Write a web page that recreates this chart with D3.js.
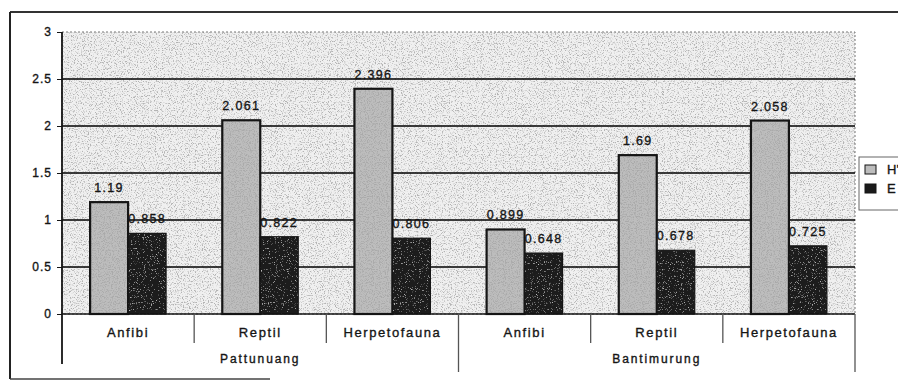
<!DOCTYPE html>
<html>
<head>
<meta charset="utf-8">
<script src="https://cdn.jsdelivr.net/npm/d3@7/dist/d3.min.js"></script>
<style>
  html, body { margin: 0; padding: 0; background: #fff; }
  svg { display: block; font-family: "Liberation Sans", Arial, sans-serif; }
  svg text { stroke: #151515; stroke-width: 0.35px; }
</style>
</head>
<body>
<svg id="chart" width="898" height="381"></svg>
<script>
// Sites and taxon groups along the category axis
const sites = ["Pattunuang", "Bantimurung"];
const taxa = ["Anfibi", "Reptil", "Herpetofauna"];
// Series: diversity index (H') and evenness (E), in site-then-taxon order
const seriesKeys = ["H'", "E"];
const hValues = [1.19, 2.061, 2.396, 0.899, 1.69, 2.058];
const eValues = [0.858, 0.822, 0.806, 0.648, 0.678, 0.725];
const yTicks = [0, 0.5, 1, 1.5, 2, 2.5, 3];

const categories = [];
sites.forEach(s => taxa.forEach(t => categories.push({ site: s, taxon: t })));
const rows = categories.map((c, i) => ({ ...c, i, H: hValues[i], E: eValues[i] }));

const svg = d3.select("#chart");
const plot = { left: 62, right: 855, top: 32, bottom: 314 };
const ink = "#151515";

// Grain texture used on the plot surface and bars
const defs = svg.append("defs");
function grain(id, freq, tone, slope, offset, seed) {
  const f = defs.append("filter").attr("id", id)
    .attr("x", 0).attr("y", 0).attr("width", "100%").attr("height", "100%");
  f.append("feTurbulence").attr("type", "fractalNoise")
    .attr("baseFrequency", freq).attr("numOctaves", 2).attr("seed", seed).attr("result", "n");
  f.append("feColorMatrix").attr("in", "n").attr("type", "matrix")
    .attr("values", `0 0 0 0 ${tone} 0 0 0 0 ${tone} 0 0 0 0 ${tone} ${slope} 0 0 0 ${offset}`)
    .attr("result", "dots");
  f.append("feComposite").attr("in", "dots").attr("in2", "SourceGraphic").attr("operator", "atop");
}
grain("grainBg", 0.85, 0.45, 5, -2.55, 7);
grain("grainLight", 0.85, 0.4, 5, -2.35, 11);
grain("grainDark", 0.85, 0.55, 4, -2.5, 5);

const x0 = d3.scaleBand().domain(rows.map(d => d.i)).range([plot.left, plot.right]);
const x1 = d3.scaleBand().domain(["H", "E"]).range([0, x0.bandwidth()]).paddingOuter(0.74);
const y = d3.scaleLinear().domain([0, 3]).range([plot.bottom, plot.top]);

// Outer frame
svg.append("line").attr("x1", 10).attr("x2", 898).attr("y1", 12).attr("y2", 12)
  .attr("stroke", "#333").attr("stroke-width", 2);
svg.append("line").attr("x1", 10).attr("x2", 10).attr("y1", 12).attr("y2", 379)
  .attr("stroke", "#222").attr("stroke-width", 2);
svg.append("line").attr("x1", 10).attr("x2", 270).attr("y1", 379).attr("y2", 379)
  .attr("stroke", "#444").attr("stroke-width", 1.5);

// Plot surface
svg.append("rect")
  .attr("x", plot.left).attr("y", plot.top)
  .attr("width", plot.right - plot.left).attr("height", plot.bottom - plot.top)
  .attr("fill", "#f0f0f0").attr("filter", "url(#grainBg)");
svg.append("rect")
  .attr("x", plot.left).attr("y", plot.top)
  .attr("width", plot.right - plot.left).attr("height", plot.bottom - plot.top)
  .attr("fill", "none").attr("stroke", "#777").attr("stroke-dasharray", "2,2");

// Horizontal gridlines
svg.append("g").selectAll("line").data(yTicks.filter(v => v > 0 && v < 3)).join("line")
  .attr("x1", plot.left).attr("x2", plot.right)
  .attr("y1", d => y(d)).attr("y2", d => y(d))
  .attr("stroke", "#000").attr("stroke-width", 1.6);

// Bars: textured fill, then a clean outline on top
const groups = svg.append("g").selectAll("g").data(rows).join("g")
  .attr("transform", d => `translate(${x0(d.i)},0)`);
const barSpec = [
  { key: "H", fill: "#bdbdbd", filter: "url(#grainLight)", sw: 2.2 },
  { key: "E", fill: "#1a1a1a", filter: "url(#grainDark)", sw: 1.2 }
];
barSpec.forEach(b => {
  groups.append("rect")
    .attr("x", x1(b.key)).attr("width", x1.bandwidth())
    .attr("y", d => y(d[b.key])).attr("height", d => y(0) - y(d[b.key]))
    .attr("fill", b.fill).attr("filter", b.filter);
  groups.append("rect")
    .attr("x", x1(b.key)).attr("width", x1.bandwidth())
    .attr("y", d => y(d[b.key])).attr("height", d => y(0) - y(d[b.key]))
    .attr("fill", "none").attr("stroke", ink).attr("stroke-width", b.sw);
});

// Value labels
const fmt = v => String(v);
barSpec.forEach(b => {
  groups.append("text")
    .attr("x", x1(b.key) + x1.bandwidth() / 2).attr("y", d => y(d[b.key]) - 10)
    .attr("text-anchor", "middle").attr("font-size", 12.5).attr("letter-spacing", 1.3)
    .attr("fill", ink).text(d => fmt(d[b.key]));
});

// Value axis
const yAxis = svg.append("g").attr("transform", `translate(${plot.left},0)`)
  .call(d3.axisLeft(y).tickValues(yTicks).tickSize(5).tickSizeOuter(0).tickFormat(d3.format("")));
yAxis.select(".domain").remove();
yAxis.selectAll(".tick line").attr("stroke", ink);
yAxis.selectAll(".tick text").attr("font-size", 12).attr("letter-spacing", 1).attr("fill", ink)
  .attr("font-family", "Liberation Sans, Arial, sans-serif").attr("x", -10);
svg.append("line").attr("x1", plot.left).attr("x2", plot.left)
  .attr("y1", plot.top).attr("y2", 364).attr("stroke", ink).attr("stroke-width", 1.8);

// Baseline
svg.append("line").attr("x1", plot.left).attr("x2", plot.right)
  .attr("y1", y(0)).attr("y2", y(0)).attr("stroke", ink).attr("stroke-width", 1.5);

// Category separators: short between taxa, long between sites
const seps = d3.range(1, rows.length + 1);
svg.append("g").selectAll("line").data(seps).join("line")
  .attr("x1", i => plot.left + i * x0.step()).attr("x2", i => plot.left + i * x0.step())
  .attr("y1", plot.bottom)
  .attr("y2", i => (i % taxa.length === 0 ? 372 : 343))
  .attr("stroke", "#555").attr("stroke-width", 1.3);

// Taxon labels
svg.append("g").selectAll("text").data(rows).join("text")
  .attr("x", d => x0(d.i) + x0.bandwidth() / 2).attr("y", 337)
  .attr("text-anchor", "middle").attr("font-size", 13).attr("letter-spacing", 1.6)
  .attr("fill", ink).text(d => d.taxon);

// Site labels
svg.append("g").selectAll("text").data(sites).join("text")
  .attr("x", (s, k) => plot.left + (k * taxa.length + taxa.length / 2) * x0.step())
  .attr("y", 363).attr("text-anchor", "middle").attr("font-size", 12).attr("letter-spacing", 1.9)
  .attr("fill", ink).text(s => s);

// Legend
const legend = svg.append("g");
legend.append("rect").attr("x", 859).attr("y", 157).attr("width", 60).attr("height", 53)
  .attr("fill", "#fff").attr("stroke", "#666");
const legendFill = ["#bdbdbd", "#1a1a1a"];
seriesKeys.forEach((k, j) => {
  legend.append("rect").attr("x", 865).attr("y", 165 + j * 19).attr("width", 11).attr("height", 9)
    .attr("fill", legendFill[j]).attr("stroke", ink).attr("stroke-width", 1);
  legend.append("text").attr("x", 887).attr("y", 174 + j * 19)
    .attr("font-size", 13).attr("fill", ink).text(k);
});
</script>
</body>
</html>
